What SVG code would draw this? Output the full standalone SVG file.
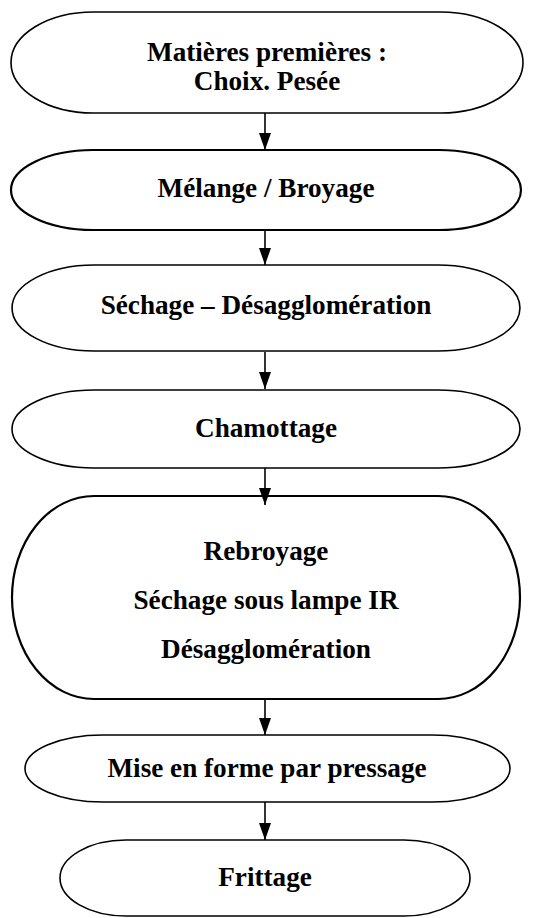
<svg xmlns="http://www.w3.org/2000/svg" width="557" height="918" viewBox="0 0 557 918">
<style>
  .node { fill: #ffffff; stroke: #000000; stroke-width: 1.6; }
  .thick { stroke-width: 2.2; }
  .label { font-family: "Liberation Serif", "Times New Roman", serif; font-weight: bold; font-size: 27.2px; fill: #000000; text-anchor: middle; }
  .conn { stroke: #000000; stroke-width: 1.6; fill: none; marker-end: url(#arrow); }
</style>
<defs>
  <marker id="arrow" markerUnits="userSpaceOnUse" markerWidth="17" markerHeight="12" refX="17" refY="6" orient="auto" viewBox="0 0 17 12">
    <path d="M0,0 L17,6 L0,12 Z" fill="#000000"/>
  </marker>
</defs>
<rect width="557" height="918" fill="#ffffff"/>
<g id="n1">
  <path class="node" d="M93.4,12 H440.6 A82.4,50.5 0 0 1 440.6,113 H93.4 A82.4,50.5 0 0 1 93.4,12 Z"/>
  <text class="label" x="267" y="61">Matières premières :</text>
  <text class="label" x="267" y="90">Choix. Pesée</text>
</g>
<g id="n2">
  <path class="node thick" d="M93,150 H439 A82,40 0 0 1 439,230 H93 A82,40 0 0 1 93,150 Z"/>
  <text class="label" x="266" y="197">Mélange / Broyage</text>
</g>
<g id="n3">
  <path class="node" d="M94,265 H438 A82,43 0 0 1 438,351 H94 A82,43 0 0 1 94,265 Z"/>
  <text class="label" x="266" y="314">Séchage – Désagglomération</text>
</g>
<g id="n4">
  <path class="node" d="M94,390 H438 A82,39 0 0 1 438,468 H94 A82,39 0 0 1 94,390 Z"/>
  <text class="label" x="266" y="437">Chamottage</text>
</g>
<g id="n5">
  <path class="node thick" d="M94,496 H438 A82,101.5 0 0 1 438,699 H94 A82,101.5 0 0 1 94,496 Z"/>
  <text class="label" x="266" y="560">Rebroyage</text>
  <text class="label" x="266" y="609">Séchage sous lampe IR</text>
  <text class="label" x="266" y="658">Désagglomération</text>
</g>
<g id="n6">
  <path class="node" d="M103,735 H432 A78,33.5 0 0 1 432,802 H103 A78,33.5 0 0 1 103,735 Z"/>
  <text class="label" x="267" y="777">Mise en forme par pressage</text>
</g>
<g id="n7">
  <path class="node" d="M126,840 H404 A66,38 0 0 1 404,916 H126 A66,38 0 0 1 126,840 Z"/>
  <text class="label" x="265" y="886">Frittage</text>
</g>
<g id="connectors">
  <line class="conn" x1="265" y1="113" x2="265" y2="150"/>
  <line class="conn" x1="265" y1="230" x2="265" y2="265"/>
  <line class="conn" x1="265" y1="352" x2="265" y2="389"/>
  <line class="conn" x1="265" y1="468" x2="265" y2="505"/>
  <line class="conn" x1="265" y1="699" x2="265" y2="735"/>
  <line class="conn" x1="265" y1="802" x2="265" y2="840"/>
</g>
</svg>
